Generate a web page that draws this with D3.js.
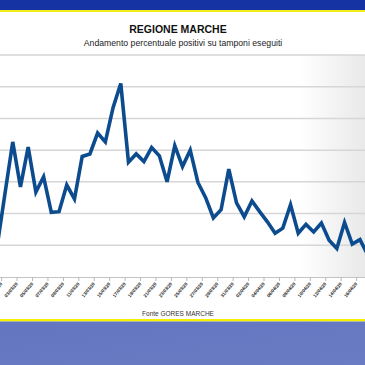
<!DOCTYPE html>
<html>
<head>
<meta charset="utf-8">
<script src="https://cdnjs.cloudflare.com/ajax/libs/d3/7.8.5/d3.min.js"></script>
<style>
  body { margin: 0; padding: 0; background: #ffffff; }
  svg { display: block; }
  .title { font-family: "Liberation Sans", Arial, sans-serif; font-weight: bold; font-size: 10.5px; fill: #111; }
  .subtitle { font-family: "Liberation Sans", Arial, sans-serif; font-size: 8.7px; fill: #222; }
  .source { font-family: "Liberation Sans", Arial, sans-serif; font-size: 6.5px; fill: #333; }
  .x-axis text { font-family: "Liberation Sans", Arial, sans-serif; font-size: 4.6px; font-weight: bold; fill: #1a1a1a; }
</style>
</head>
<body>
<div id="chart"></div>
<script>
// date categories (one per day) and percent of positive swabs
var dates = ["29/02/20","01/03/20","02/03/20","03/03/20","04/03/20","05/03/20","06/03/20","07/03/20",
  "08/03/20","09/03/20","10/03/20","11/03/20","12/03/20","13/03/20","14/03/20","15/03/20",
  "16/03/20","17/03/20","18/03/20","19/03/20","20/03/20","21/03/20","22/03/20","23/03/20",
  "24/03/20","25/03/20","26/03/20","27/03/20","28/03/20","29/03/20","30/03/20","31/03/20",
  "01/04/20","02/04/20","03/04/20","04/04/20","05/04/20","06/04/20","07/04/20","08/04/20",
  "09/04/20","10/04/20","11/04/20","12/04/20","13/04/20","14/04/20","15/04/20","16/04/20","17/04/20"];
var positivi = [5.0, 13.2, 21.3, 14.2, 20.5, 13.4, 15.8, 10.2, 10.3, 14.5, 12.3, 19.0, 19.4, 22.7, 21.3, 26.7,
  30.5, 18.1, 19.4, 18.2, 20.4, 19.1, 15.0, 20.7, 17.4, 20.0, 14.9, 12.5, 9.3, 10.6, 17.0, 11.7,
  9.5, 12.0, 10.3, 8.7, 6.9, 7.7, 11.4, 6.9, 8.3, 7.1, 8.5, 5.8, 4.5, 8.6, 5.2, 5.9, 3.5];
// tick labels, one every two days
var tickLabels = ["01/03/20","03/03/20","05/03/20","07/03/20","09/03/20","11/03/20","13/03/20","15/03/20",
  "17/03/20","19/03/20","21/03/20","23/03/20","25/03/20","27/03/20","29/03/20","31/03/20",
  "02/04/20","04/04/20","06/04/20","08/04/20","10/04/20","12/04/20","14/04/20","16/04/20"];
var yTicks = [0, 5, 10, 15, 20, 25, 30, 35];

var svgWidth = 365, svgHeight = 365;
var plotTop = 55, plotBottom = 277;

var svg = d3.select("#chart").append("svg")
  .attr("width", svgWidth)
  .attr("height", svgHeight);

var defs = svg.append("defs");
// grey fade on the right side of the plot
var fade = defs.append("linearGradient").attr("id", "fade")
  .attr("x1", "0%").attr("x2", "100%").attr("y1", "0%").attr("y2", "0%");
fade.append("stop").attr("offset", "0%").attr("stop-color", "#ffffff");
fade.append("stop").attr("offset", "100%").attr("stop-color", "#e9e9e9");
var band = defs.append("linearGradient").attr("id", "band")
  .attr("x1", "0%").attr("x2", "100%").attr("y1", "0%").attr("y2", "100%");
band.append("stop").attr("offset", "0%").attr("stop-color", "#6475c1");
band.append("stop").attr("offset", "100%").attr("stop-color", "#6a7cc3");

// header bar + yellow line
svg.append("rect").attr("x", 0).attr("y", 0).attr("width", svgWidth).attr("height", 10).attr("fill", "#1533a3");
svg.append("rect").attr("x", 0).attr("y", 10).attr("width", svgWidth).attr("height", 2).attr("fill", "#f2ea1a");

// footer yellow line + band
svg.append("rect").attr("x", 0).attr("y", 319).attr("width", svgWidth).attr("height", 2.5).attr("fill", "#f4f000");
svg.append("rect").attr("x", 0).attr("y", 321.5).attr("width", svgWidth).attr("height", svgHeight - 321.5).attr("fill", "url(#band)");

svg.append("rect").attr("x", 300).attr("y", plotTop).attr("width", 65).attr("height", plotBottom - plotTop)
  .attr("fill", "url(#fade)");

// titles
svg.append("text").attr("class", "title").attr("x", 178).attr("y", 33).attr("text-anchor", "middle").text("REGIONE MARCHE");
svg.append("text").attr("class", "subtitle").attr("x", 183).attr("y", 46).attr("text-anchor", "middle")
  .text("Andamento percentuale positivi su tamponi eseguiti");

// scales
var xScale = d3.scaleLinear().domain([0, dates.length - 1]).range([-2.7, 367.7]);
var yScale = d3.scaleLinear().domain([0, 35]).range([plotBottom, plotTop]);

// gridlines
svg.append("g").selectAll("line").data(yTicks.slice(1)).enter().append("line")
  .attr("x1", 0).attr("x2", svgWidth)
  .attr("y1", d => yScale(d)).attr("y2", d => yScale(d))
  .attr("stroke", "#d6d6d6").attr("stroke-width", 1.5);

// x axis with ticks between categories, every two days
var xAxis = d3.axisBottom(xScale)
  .tickValues(tickLabels.map((t, k) => 2 * k + 0.5))
  .tickFormat((d, k) => tickLabels[k])
  .tickSize(4);
var xg = svg.append("g").attr("class", "x-axis")
  .attr("transform", `translate(0, ${plotBottom})`)
  .call(xAxis);
xg.select(".domain").attr("stroke", "#c4c4c4").attr("stroke-width", 1.2);
xg.selectAll(".tick line").attr("stroke", "#b8b8b8");
xg.selectAll(".tick text")
  .attr("text-anchor", "end")
  .attr("dy", 0).attr("y", 0)
  .attr("transform", "translate(1,7) rotate(-50)");

// the line
var line = d3.line()
  .x((d, i) => xScale(i))
  .y(d => yScale(d));
svg.append("path").datum(positivi)
  .attr("d", line)
  .attr("fill", "none")
  .attr("stroke", "#0c4c8e")
  .attr("stroke-width", 3.6)
  .attr("stroke-linejoin", "miter");

// source
svg.append("text").attr("class", "source").attr("x", 178).attr("y", 316).attr("text-anchor", "middle").text("Fonte GORES MARCHE");
</script>
</body>
</html>
